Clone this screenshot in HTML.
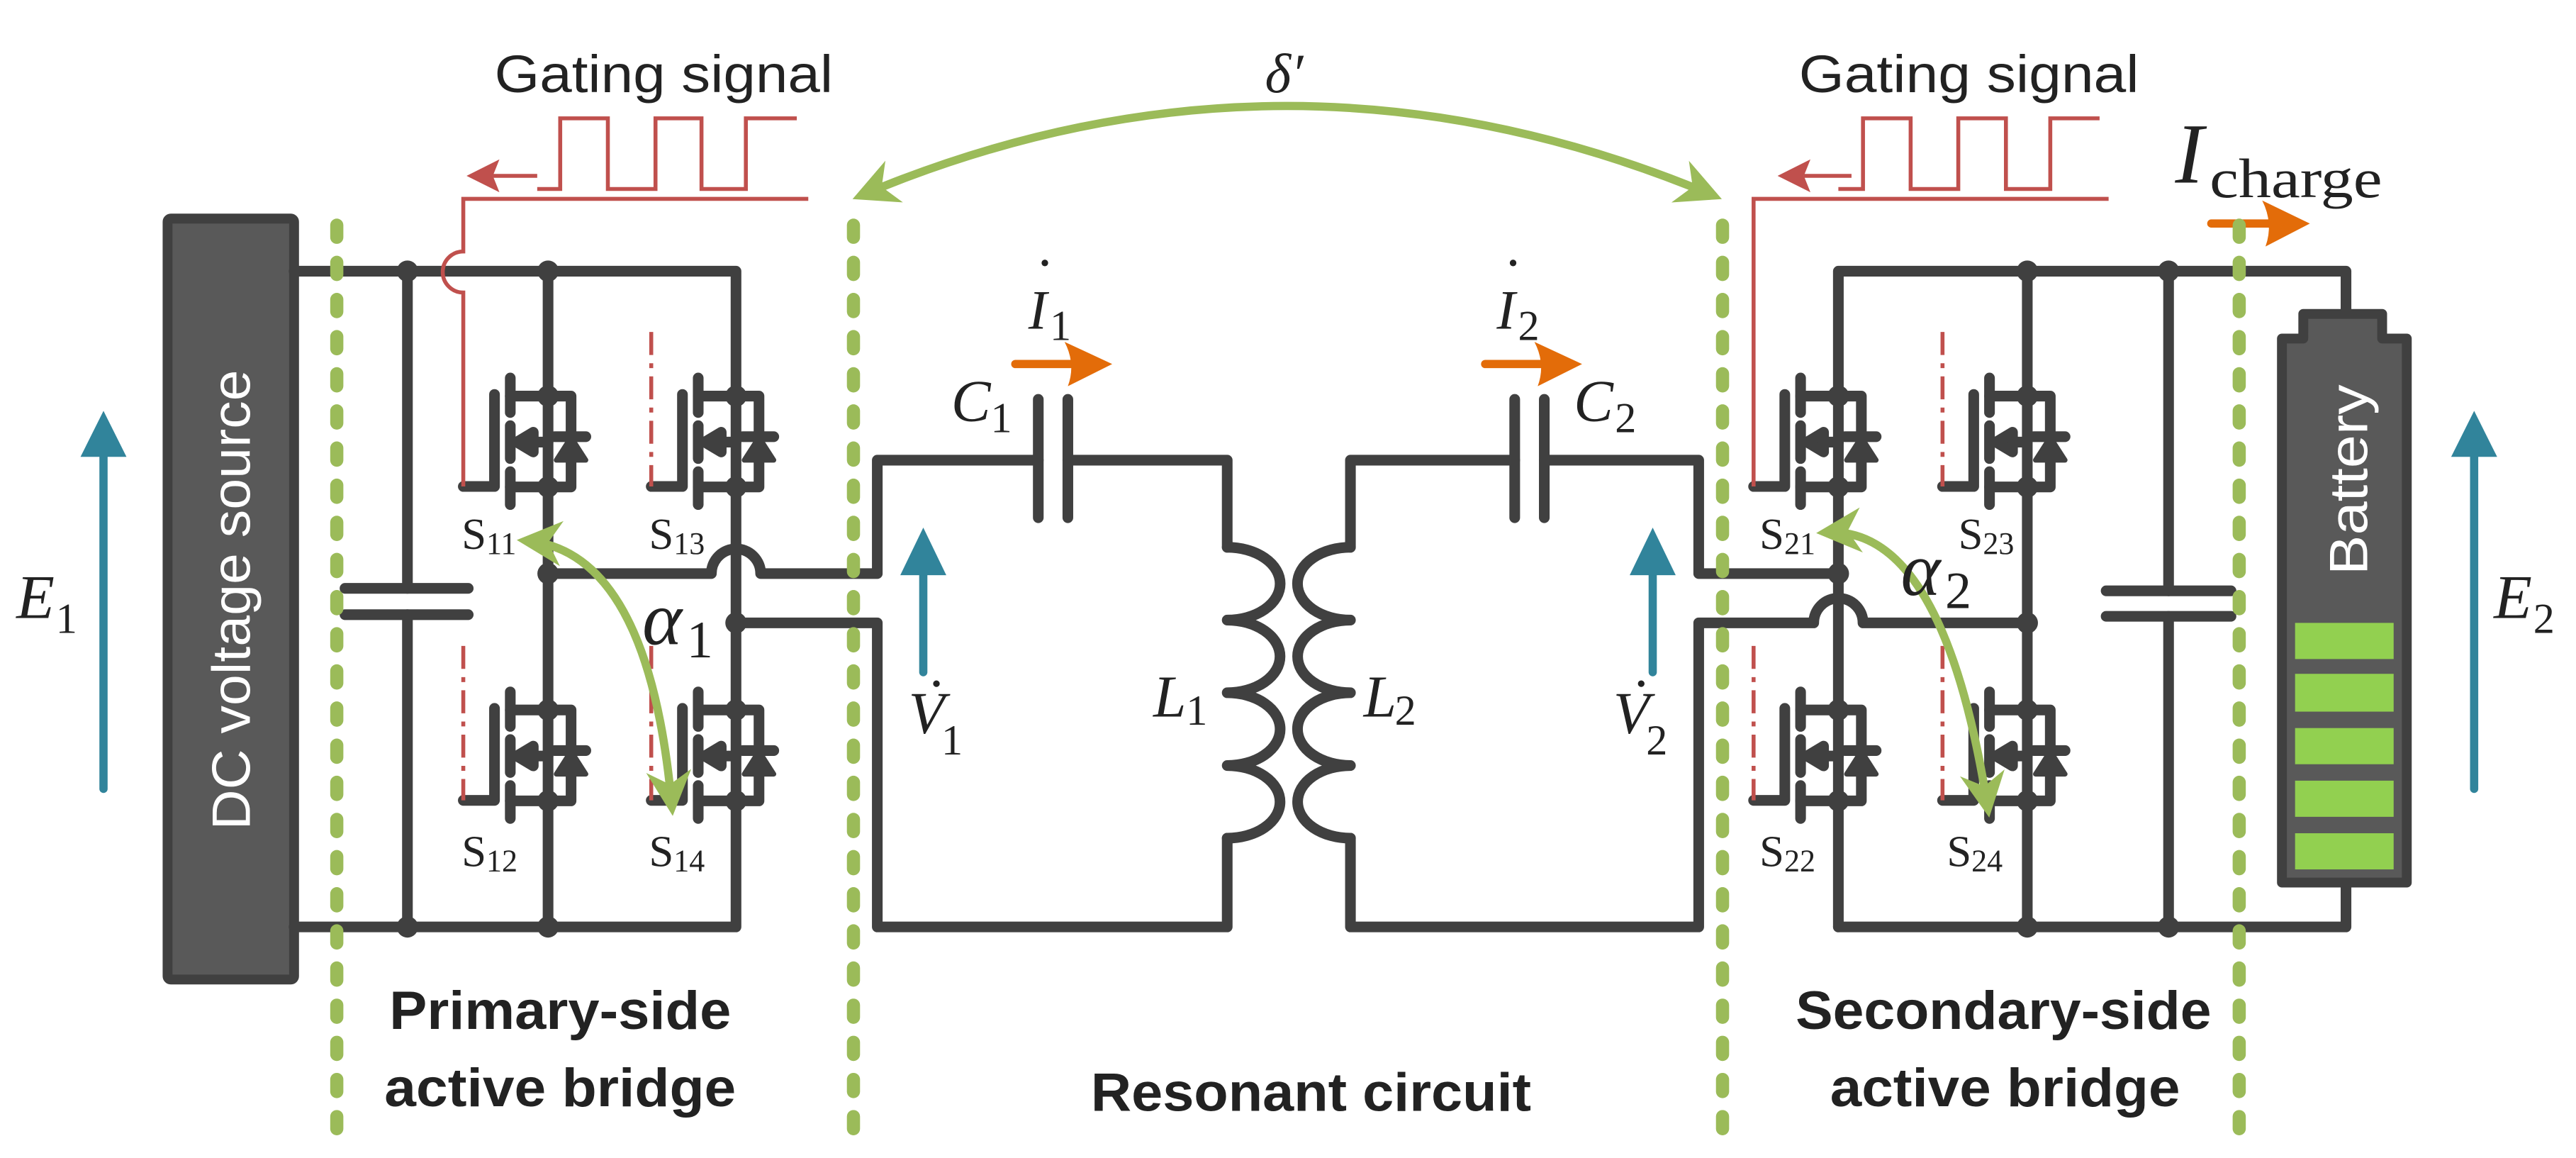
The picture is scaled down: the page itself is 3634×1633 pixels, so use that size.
<!DOCTYPE html>
<html><head><meta charset="utf-8"><style>html,body{margin:0;padding:0;background:#fff}svg{display:block}</style></head>
<body>
<svg xmlns="http://www.w3.org/2000/svg" width="3634" height="1633" viewBox="0 0 1568 704.6" preserveAspectRatio="none">
<defs>
<marker id="ga" viewBox="0 0 10 10" refX="8" refY="5" markerWidth="5.5" markerHeight="6" orient="auto-start-reverse" markerUnits="strokeWidth"><path d="M0,0 L10,5 L0,10 L3,5 z" fill="#9BBB59"/></marker>
<g id="mos" fill="none" stroke="#404040" stroke-width="6.5" stroke-linecap="round" stroke-linejoin="round">
<path d="M-32.6,-1 V55 H-51.6"/>
<path d="M-23,-11 V10 M-23,18 V38 M-23,46 V66"/>
<path d="M-23,0 H14 V55.3 H-23"/>
<path d="M-12,28 H0"/>
<path d="M-19,28 L-9,22 L-9,34 z" fill="#404040"/>
<path d="M4,24.7 H23" />
<path d="M14,25 L5,39 H23 z" fill="#404040" stroke-width="3"/>
<circle cx="0" cy="0" r="6.5" fill="#404040" stroke="none"/>
<circle cx="0" cy="55.3" r="6.5" fill="#404040" stroke="none"/>
</g>
</defs>

<rect x="102" y="133" width="77" height="463" rx="2" fill="#595959" stroke="#404040" stroke-width="6"/>
<text transform="translate(152,365) rotate(-90)" text-anchor="middle" font-family="Liberation Sans, sans-serif" font-size="33" fill="#fff" textLength="280" lengthAdjust="spacingAndGlyphs">DC voltage source</text>

<path d="M63,480 V272" stroke="#31849B" stroke-width="5" stroke-linecap="round"/>
<path d="M49,278 L63,250 L77,278 z" fill="#31849B"/>
<text x="10" y="376" font-family="Liberation Serif, serif" font-style="italic" font-size="38" fill="#222">E</text>
<text x="34" y="385" font-family="Liberation Serif, serif" font-size="26" fill="#222">1</text>

<path d="M1506,480 V272" stroke="#31849B" stroke-width="5" stroke-linecap="round"/>
<path d="M1492,278 L1506,250 L1520,278 z" fill="#31849B"/>
<text x="1518" y="376" font-family="Liberation Serif, serif" font-style="italic" font-size="38" fill="#222">E</text>
<text x="1542" y="385" font-family="Liberation Serif, serif" font-size="26" fill="#222">2</text>

<g fill="none" stroke="#404040" stroke-width="6.5" stroke-linecap="round" stroke-linejoin="round">
<path d="M179,165 H448 V564 H179"/>
<path d="M248,165 V358 M248,374 V564"/>
<path d="M210,358 H285 M210,374 H285"/>
<path d="M333.6,165 V564"/>
<path d="M333.6,349 H433 A15,15 0 0 1 463,349 H534 V280 H632 M650,280 H747 V333"/>
<path d="M448,379 H534 V564 H747 V510"/>
<path d="M632,243 V315 M650,243 V315"/>
<path d="M747,333 A32,22 0 0 1 747,377.3 A32,22 0 0 1 747,421.5 A32,22 0 0 1 747,465.8 A32,22 0 0 1 747,510"/>
<path d="M822,333 A32,22 0 0 0 822,377.3 A32,22 0 0 0 822,421.5 A32,22 0 0 0 822,465.8 A32,22 0 0 0 822,510"/>
<path d="M822,333 V280 H922 M940,280 H1034 V349 H1119"/>
<path d="M922,243 V315 M940,243 V315"/>
<path d="M822,510 V564 H1034 V379 H1104 A15,15 0 0 1 1134,379 H1234"/>
<path d="M1119,564 V165 H1428 V191"/>
<path d="M1119,564 H1428 V537"/>
<path d="M1234,165 V564"/>
<path d="M1320,165 V359.5 M1320,375 V564"/>
<path d="M1282,359.5 H1358 M1282,375 H1358"/>
</g>
<g fill="#404040">
<circle cx="248" cy="165" r="6.5"/><circle cx="333.6" cy="165" r="6.5"/>
<circle cx="248" cy="564" r="6.5"/><circle cx="333.6" cy="564" r="6.5"/>
<circle cx="333.6" cy="349" r="6.5"/><circle cx="448" cy="379" r="6.5"/>
<circle cx="1234" cy="165" r="6.5"/><circle cx="1320" cy="165" r="6.5"/>
<circle cx="1234" cy="564" r="6.5"/><circle cx="1320" cy="564" r="6.5"/>
<circle cx="1119" cy="349" r="6.5"/><circle cx="1234" cy="379" r="6.5"/>
</g>
<use href="#mos" x="333.6" y="241"/><use href="#mos" x="448" y="241"/>
<use href="#mos" x="333.6" y="432"/><use href="#mos" x="448" y="432"/>
<use href="#mos" x="1119" y="241"/><use href="#mos" x="1234" y="241"/>
<use href="#mos" x="1119" y="432"/><use href="#mos" x="1234" y="432"/>

<g fill="none" stroke="#C0504D" stroke-width="2.4">
<path d="M282,296 V178 A12.5,12.5 0 0 1 282,153 V121 H492"/>
<path d="M327,115 H341 V72 H370 V115 H399 V72 H427 V115 H454 V72 H485"/>
<path d="M327,107 H300"/>
<path d="M1067.4,296 V121 H1283.5"/>
<path d="M1119,115 H1134 V72 H1163 V115 H1192 V72 H1221 V115 H1248 V72 H1278"/>
<path d="M1127,107 H1098"/>
<g stroke-dasharray="14 5 3 5">
<path d="M396.4,202 V296"/><path d="M282,393 V487"/><path d="M396.4,393 V487"/>
<path d="M1182.4,202 V296"/><path d="M1067.4,393 V487"/><path d="M1182.4,393 V487"/>
</g>
</g>
<path d="M284,107 L304,97 L300,107 L304,117 z" fill="#C0504D"/>
<path d="M1082,107 L1102,97 L1098,107 L1102,117 z" fill="#C0504D"/>
<g font-family="Liberation Sans, sans-serif" font-size="32" fill="#222" lengthAdjust="spacingAndGlyphs">
<text x="301" y="56" textLength="206" lengthAdjust="spacingAndGlyphs">Gating signal</text>
<text x="1095" y="56" textLength="207" lengthAdjust="spacingAndGlyphs">Gating signal</text>
</g>

<path d="M1402,206 V191 H1450 V206 H1465 V537 H1389 V206 z" fill="#595959" stroke="#404040" stroke-width="6" stroke-linejoin="round"/>
<g fill="#92D050">
<rect x="1397" y="379" width="60" height="22"/><rect x="1397" y="410" width="60" height="23"/>
<rect x="1397" y="443" width="60" height="22"/><rect x="1397" y="475" width="60" height="22"/>
<rect x="1397" y="507" width="60" height="22"/>
</g>
<text transform="translate(1441,292) rotate(-90)" text-anchor="middle" font-family="Liberation Sans, sans-serif" font-size="33" fill="#fff" textLength="116" lengthAdjust="spacingAndGlyphs">Battery</text>

<path d="M562,409 V345" stroke="#31849B" stroke-width="5" stroke-linecap="round"/>
<path d="M548,350 L562,321 L576,350 z" fill="#31849B"/>
<path d="M1006,409 V345" stroke="#31849B" stroke-width="5" stroke-linecap="round"/>
<path d="M992,350 L1006,321 L1020,350 z" fill="#31849B"/>

<g fill="#E36C09">
<path d="M618,221.5 H655" stroke="#E36C09" stroke-width="5" stroke-linecap="round"/>
<path d="M677,221.5 L648,208 Q655,221.5 650,235 z"/>
<path d="M904,221.5 H941" stroke="#E36C09" stroke-width="5" stroke-linecap="round"/>
<path d="M963,221.5 L934,208 Q941,221.5 936,235 z"/>
<path d="M1346,136 H1384" stroke="#E36C09" stroke-width="5" stroke-linecap="round"/>
<path d="M1406,136 L1377,122 Q1384,136 1379,150 z"/>
</g>

<g stroke="#9BBB59" stroke-width="8" stroke-linecap="round" stroke-dasharray="7.4 15.2" fill="none">
<path d="M205,137 V688"/><path d="M519.5,137 V688"/><path d="M1048.5,137 V688"/><path d="M1363,137 V688"/>
</g>
<g stroke="#9BBB59" stroke-width="5" fill="none" marker-start="url(#ga)" marker-end="url(#ga)">
<path d="M524,119 Q783,10 1043,119"/>
<path d="M320,329 Q395,335 409,491"/>
<path d="M1111,324 Q1183,319 1210,492"/>
</g>

<g font-family="Liberation Serif, serif" fill="#222">
<text x="770" y="56" font-size="34" font-style="italic">δ′</text>
<text x="626" y="200" font-size="34" font-style="italic">I</text><text x="639" y="207" font-size="26">1</text><circle cx="636" cy="160" r="2"/>
<text x="911" y="200" font-size="34" font-style="italic">I</text><text x="924" y="207" font-size="26">2</text><circle cx="921" cy="160" r="2"/>
<text x="579" y="256" font-size="36" font-style="italic">C</text><text x="603" y="263" font-size="26">1</text>
<text x="958" y="256" font-size="36" font-style="italic">C</text><text x="983" y="263" font-size="26">2</text>
<text x="553" y="446" font-size="36" font-style="italic">V</text><text x="573" y="459" font-size="26">1</text><circle cx="570" cy="416" r="2"/>
<text x="982" y="446" font-size="36" font-style="italic">V</text><text x="1002" y="459" font-size="26">2</text><circle cx="999" cy="416" r="2"/>
<text x="702" y="436" font-size="36" font-style="italic">L</text><text x="722" y="441" font-size="26">1</text>
<text x="830" y="436" font-size="36" font-style="italic">L</text><text x="849" y="441" font-size="26">2</text>
<text x="391" y="392" font-size="46" font-style="italic">α</text><text x="418" y="400" font-size="32">1</text>
<text x="1157" y="362" font-size="46" font-style="italic">α</text><text x="1184" y="370" font-size="32">2</text>
<text x="1324" y="111" font-size="52" font-style="italic">I</text><text x="1345" y="120" font-size="34" textLength="105" lengthAdjust="spacingAndGlyphs">charge</text>
<g font-size="27">
<text x="281" y="334">S<tspan font-size="19" dy="3">11</tspan></text>
<text x="395" y="334">S<tspan font-size="19" dy="3">13</tspan></text>
<text x="281" y="527">S<tspan font-size="19" dy="3">12</tspan></text>
<text x="395" y="527">S<tspan font-size="19" dy="3">14</tspan></text>
<text x="1071" y="334">S<tspan font-size="19" dy="3">21</tspan></text>
<text x="1192" y="334">S<tspan font-size="19" dy="3">23</tspan></text>
<text x="1071" y="527">S<tspan font-size="19" dy="3">22</tspan></text>
<text x="1185" y="527">S<tspan font-size="19" dy="3">24</tspan></text>
</g>
</g>
<g font-family="Liberation Sans, sans-serif" font-weight="bold" font-size="33" fill="#222">
<text x="237" y="626" textLength="208" lengthAdjust="spacingAndGlyphs">Primary-side</text>
<text x="234" y="673" textLength="214" lengthAdjust="spacingAndGlyphs">active bridge</text>
<text x="664" y="676" textLength="268" lengthAdjust="spacingAndGlyphs">Resonant circuit</text>
<text x="1093" y="626" textLength="253" lengthAdjust="spacingAndGlyphs">Secondary-side</text>
<text x="1114" y="673" textLength="213" lengthAdjust="spacingAndGlyphs">active bridge</text>
</g>
</svg>
</body></html>
